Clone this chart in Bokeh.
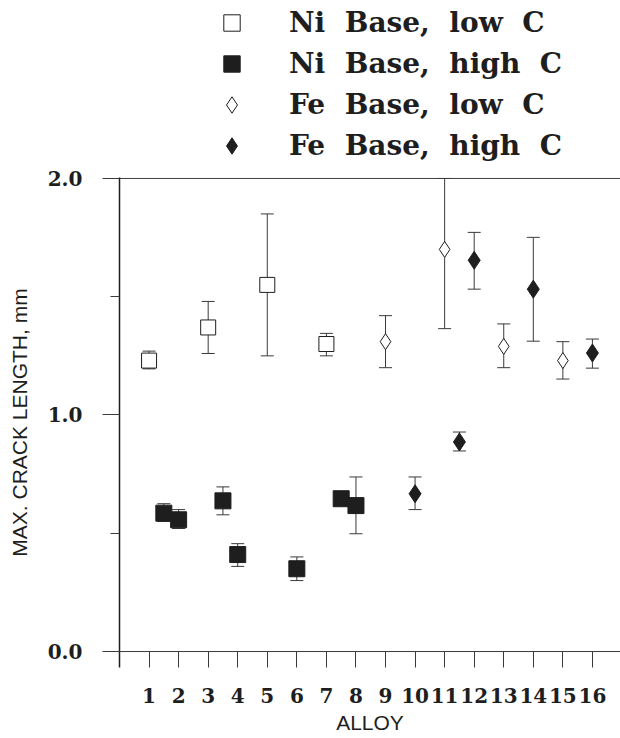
from bokeh.plotting import figure
from bokeh.layouts import column
from bokeh.models import (ColumnDataSource, Whisker, TeeHead, FixedTicker,
                          Span, Legend, LegendItem, Range1d, PrintfTickFormatter)
from bokeh.embed import file_html
from bokeh.resources import INLINE

# ---- data ----
ni_low_x = [1, 3, 5, 7]
ni_low_y = [1.23, 1.37, 1.55, 1.30]
ni_low_hi = [1.27, 1.48, 1.85, 1.345]
ni_low_lo = [1.195, 1.26, 1.25, 1.25]

ni_high_x = [1.5, 2, 3.5, 4, 6, 7.5, 8]
ni_high_y = [0.585, 0.557, 0.637, 0.41, 0.35, 0.646, 0.617]
ni_high_hi = [0.625, 0.60, 0.696, 0.456, 0.40, 0.66, 0.738]
ni_high_lo = [0.55, 0.52, 0.578, 0.36, 0.30, 0.635, 0.498]

fe_low_x = [9, 11, 13, 15]
fe_low_y = [1.31, 1.70, 1.29, 1.23]
fe_low_hi = [1.42, 2.0, 1.385, 1.31]
fe_low_lo = [1.20, 1.365, 1.20, 1.152]

fe_high_x = [10, 11.5, 12, 14, 16]
fe_high_y = [0.667, 0.886, 1.654, 1.532, 1.262]
fe_high_hi = [0.738, 0.928, 1.772, 1.751, 1.321]
fe_high_lo = [0.60, 0.848, 1.532, 1.312, 1.198]

alloy_ticks = list(range(1, 17))
y_ticks = [0.0, 1.0, 2.0]
y_minor_ticks = [0.5, 1.5]
legend_labels = ["Ni  Base,  low  C", "Ni  Base,  high  C",
                 "Fe  Base,  low  C", "Fe  Base,  high  C"]
x_title = "ALLOY"
y_title = "MAX. CRACK LENGTH, mm"

INK = "#1e1e1e"
LINE = "#3a3a3a"

styles = [("square", 15, "white"), ("square", 16, INK),
          ("diamond", 16, "white"), ("diamond", 18, INK)]

series = [(ni_low_x, ni_low_y, ni_low_hi, ni_low_lo),
          (ni_high_x, ni_high_y, ni_high_hi, ni_high_lo),
          (fe_low_x, fe_low_y, fe_low_hi, fe_low_lo),
          (fe_high_x, fe_high_y, fe_high_hi, fe_high_lo)]
sources = [ColumnDataSource(dict(x=xs, y=ys, hi=hi, lo=lo)) for xs, ys, hi, lo in series]

# ---------------- main chart ----------------
p = figure(width=620, height=570, output_backend="svg", toolbar_location=None,
           x_range=Range1d(0, 16.95), y_range=Range1d(-0.0675, 2.004),
           min_border_left=119, min_border_right=0, min_border_top=9,
           min_border_bottom=71)
p.outline_line_color = None
p.xgrid.visible = False
p.ygrid.visible = False

xa = p.xaxis[0]
xa.ticker = FixedTicker(ticks=alloy_ticks)
xa.axis_line_color = None
xa.major_tick_in = 16
xa.major_tick_out = 0
xa.major_tick_line_color = LINE
xa.minor_tick_line_color = None
xa.major_label_standoff = 20
xa.major_label_text_font = "DejaVu Serif"
xa.major_label_text_font_style = "bold"
xa.major_label_text_font_size = "20px"
xa.major_label_text_color = INK
xa.axis_label = x_title
xa.axis_label_text_font = "Liberation Sans"
xa.axis_label_text_font_style = "normal"
xa.axis_label_text_font_size = "21px"
xa.axis_label_text_color = INK
xa.axis_label_standoff = 5

ya = p.yaxis[0]
ya.ticker = FixedTicker(ticks=y_ticks, minor_ticks=y_minor_ticks)
ya.formatter = PrintfTickFormatter(format="%.1f")
ya.axis_line_color = INK
ya.axis_line_width = 1.5
ya.major_tick_in = 0
ya.major_tick_out = 17
ya.minor_tick_in = 0
ya.minor_tick_out = 9
ya.major_tick_line_color = LINE
ya.minor_tick_line_color = LINE
ya.major_label_standoff = 20
ya.major_label_text_font = "DejaVu Serif"
ya.major_label_text_font_style = "bold"
ya.major_label_text_font_size = "20px"
ya.major_label_text_color = INK
ya.axis_label = y_title
ya.axis_label_text_font = "Liberation Sans"
ya.axis_label_text_font_style = "normal"
ya.axis_label_text_font_size = "21px"
ya.axis_label_text_color = INK
ya.axis_label_standoff = 14

p.add_layout(Span(location=y_ticks[-1], dimension="width", line_color=LINE, line_width=1))
p.add_layout(Span(location=y_ticks[0], dimension="width", line_color=LINE, line_width=1))

for src, (marker, size, fill) in zip(sources, styles):
    w = Whisker(base="x", upper="hi", lower="lo", source=src, level="underlay",
                line_color=LINE, line_width=1,
                upper_head=TeeHead(size=13, line_color=LINE, line_width=1),
                lower_head=TeeHead(size=13, line_color=LINE, line_width=1))
    p.add_layout(w)
    p.scatter("x", "y", source=src, marker=marker, size=size,
              fill_color=fill, line_color=INK, line_width=1)

# ---------------- legend strip above the chart ----------------
# Same data, viewed through a range that shows none of it: only the legend is seen.
lg = figure(width=620, height=168, output_backend="svg", toolbar_location=None,
            x_axis_type=None, y_axis_type=None,
            x_range=Range1d(-2, -1), y_range=Range1d(-2, -1), min_border=0)
lg.outline_line_color = None
items = []
for lab, src, (marker, size, fill) in zip(legend_labels, sources, styles):
    r = lg.scatter("x", "y", source=src, marker=marker, fill_color=fill,
                   line_color=INK, line_width=1)
    items.append(LegendItem(label=lab, renderers=[r]))

legend = Legend(items=items, location=(92, 2), orientation="vertical",
                padding=0, margin=0, spacing=0,
                glyph_width=41, glyph_height=41, label_height=41,
                label_standoff=37,
                label_text_font="DejaVu Serif", label_text_font_style="bold",
                label_text_font_size="28px", label_text_color=INK,
                label_text_baseline="middle",
                border_line_color=None, background_fill_alpha=0)
lg.add_layout(legend)

open("out.html", "w").write(file_html(column(lg, p, spacing=0), INLINE))
